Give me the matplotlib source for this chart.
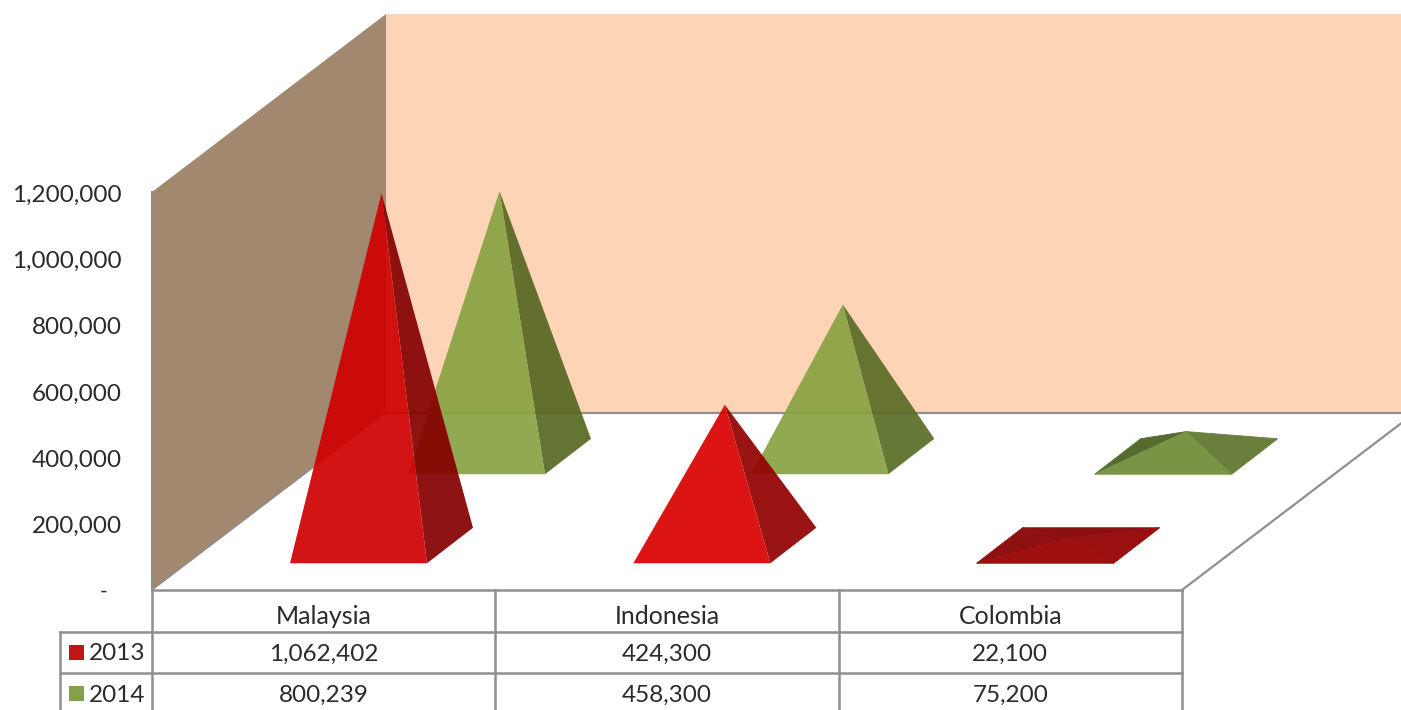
import matplotlib
matplotlib.use("Agg")
import matplotlib.pyplot as plt
from matplotlib.patches import Polygon, Rectangle

plt.rcParams['font.family'] = ['Lato', 'DejaVu Sans']

# Export volumes by country and year
countries = ["Malaysia", "Indonesia", "Colombia"]
years = ["2013", "2014"]
values_2013 = [1062402, 424300, 22100]
values_2014 = [800239, 458300, 75200]
y_ticks = [0, 200000, 400000, 600000, 800000, 1000000, 1200000]

W, H = 1401, 710
GRID = "#8f8f8f"
TEXT = "#2b2b2b"

# Projection of the chart box on the canvas
FLOOR_Y = 590.0
PX_PER_UNIT = 398.0 / 1200000
BOX_LEFT, BOX_RIGHT = 152.0, 1182.0
DEPTH_X, DEPTH_Y = 234.0, 178.0
SLOT = (BOX_RIGHT - BOX_LEFT) / 3
HALF_W = 68.5
BASE_DX, BASE_DY = 46.0, 35.5

# Face colours per (series, country); lighting changes with the slope of the faces
PALETTES = {
    "2013": [
        dict(front="#cf0000", right="#840000", left="#840000", back="#840000", alpha=0.92),
        dict(front="#da0000", right="#920000", left="#920000", back="#920000", alpha=0.92),
        dict(front="#9e1010", right="#9a1010", left="#8f1010", back="#8a0f0f", alpha=1.0),
    ],
    "2014": [
        dict(front="#88a242", right="#566821", left="#566821", back="#566821", alpha=0.92),
        dict(front="#88a242", right="#596c24", left="#596c24", back="#596c24", alpha=0.92),
        dict(front="#7a9445", right="#6b7f3d", left="#566b2f", back="#566b2f", alpha=1.0),
    ],
}
SWATCH = {"2013": "#c21414", "2014": "#83a04b"}
ROW_ANCHOR = {"2013": (381.5, 545.5), "2014": (499.5, 456.5)}

fig = plt.figure(figsize=(W / 100, H / 100), dpi=100)
ax = fig.add_axes([0, 0, 1, 1])
ax.set_xlim(0, W)
ax.set_ylim(H, 0)
ax.axis("off")

wall_top = FLOOR_Y - DEPTH_Y - 398.0
wall_bottom = FLOOR_Y - DEPTH_Y
wall_x = BOX_LEFT + DEPTH_X

# Walls and floor
ax.add_patch(Polygon([(wall_x, wall_top), (W, wall_top), (W, wall_bottom), (wall_x, wall_bottom)],
                     closed=True, fc="#fdd5b6", ec="none", zorder=1))
ax.add_patch(Polygon([(BOX_LEFT, FLOOR_Y - 398.0), (wall_x, wall_top), (wall_x, wall_bottom), (BOX_LEFT, FLOOR_Y)],
                     closed=True, fc="#a1886f", ec="none", zorder=1))
ax.plot([wall_x, W], [wall_bottom + 0.5] * 2, color=GRID, lw=1.6, zorder=2)
ax.plot([BOX_LEFT - 0.5] * 2, [FLOOR_Y - 398.0, FLOOR_Y], color=GRID, lw=1.5, zorder=2)
ax.plot([BOX_LEFT, wall_x], [FLOOR_Y, wall_bottom], color=GRID, lw=1.0, zorder=2)
ax.plot([BOX_RIGHT, W], [FLOOR_Y, FLOOR_Y - (W - BOX_RIGHT) * DEPTH_Y / DEPTH_X], color=GRID, lw=1.6, zorder=2)


def signed_area(pts):
    return sum(pts[i][0] * pts[(i + 1) % 3][1] - pts[(i + 1) % 3][0] * pts[i][1] for i in range(3))


def draw_pyramid(cx, cy, value, palette, z):
    """Draw a square pyramid on the floor; only faces turned to the viewer appear."""
    apex = (cx, cy - value * PX_PER_UNIT)
    fl = (cx - BASE_DX / 2 - HALF_W, cy + BASE_DY / 2)
    fr = (cx - BASE_DX / 2 + HALF_W, cy + BASE_DY / 2)
    br = (cx + BASE_DX / 2 + HALF_W, cy - BASE_DY / 2)
    bl = (cx + BASE_DX / 2 - HALF_W, cy - BASE_DY / 2)
    faces = [("back", br, bl), ("left", bl, fl), ("right", fr, br), ("front", fl, fr)]
    opaque = palette["alpha"] == 1.0
    for name, a, b in faces:
        tri = [a, b, apex]
        if signed_area(tri) < 0:
            ax.add_patch(Polygon(tri, closed=True, fc=palette[name],
                                 ec=palette[name] if opaque else "none", lw=0.6 if opaque else 0,
                                 alpha=palette["alpha"], zorder=z))


# Rear row first so the front row overlaps it
for zorder, year, vals in [(3, "2014", values_2014), (4, "2013", values_2013)]:
    ax0, ay0 = ROW_ANCHOR[year]
    for i, v in enumerate(vals):
        draw_pyramid(ax0 + i * SLOT, ay0, v, PALETTES[year][i], zorder)

# Value axis labels
for t in y_ticks:
    y = FLOOR_Y - t * PX_PER_UNIT + 3
    if t == 0:
        ax.text(104, y - 1, "-", ha="center", va="center", fontsize=15, color=TEXT)
    else:
        ax.text(122, y, f"{t:,}", ha="right", va="center", fontsize=17.5, color=TEXT)

# Data table under the chart
row_lines = [FLOOR_Y, 632, 673]
table_left = 60
for k, y in enumerate(row_lines):
    ax.plot([BOX_LEFT if k == 0 else table_left, BOX_RIGHT], [y, y], color=GRID, lw=1.8, zorder=5)
for i in range(4):
    x = BOX_LEFT + i * SLOT
    ax.plot([x, x], [FLOOR_Y, H], color=GRID, lw=1.8, zorder=5)
ax.plot([table_left, table_left], [632, H], color=GRID, lw=1.8, zorder=5)

row_centers = [654, 695]
for i, name in enumerate(countries):
    cx = BOX_LEFT + (i + 0.5) * SLOT
    ax.text(cx, 616, name, ha="center", va="center", fontsize=18, color=TEXT)
    ax.text(cx, row_centers[0], f"{values_2013[i]:,}", ha="center", va="center", fontsize=17.5, color=TEXT)
    ax.text(cx, row_centers[1], f"{values_2014[i]:,}", ha="center", va="center", fontsize=17.5, color=TEXT)

for year, yc in zip(years, row_centers):
    ax.add_patch(Rectangle((69, yc - 9), 15, 15, fc=SWATCH[year], ec="none", zorder=6))
    ax.text(89, yc, year, ha="left", va="center", fontsize=17.5, color=TEXT)

fig.savefig("out.png", dpi=100, facecolor="white")
